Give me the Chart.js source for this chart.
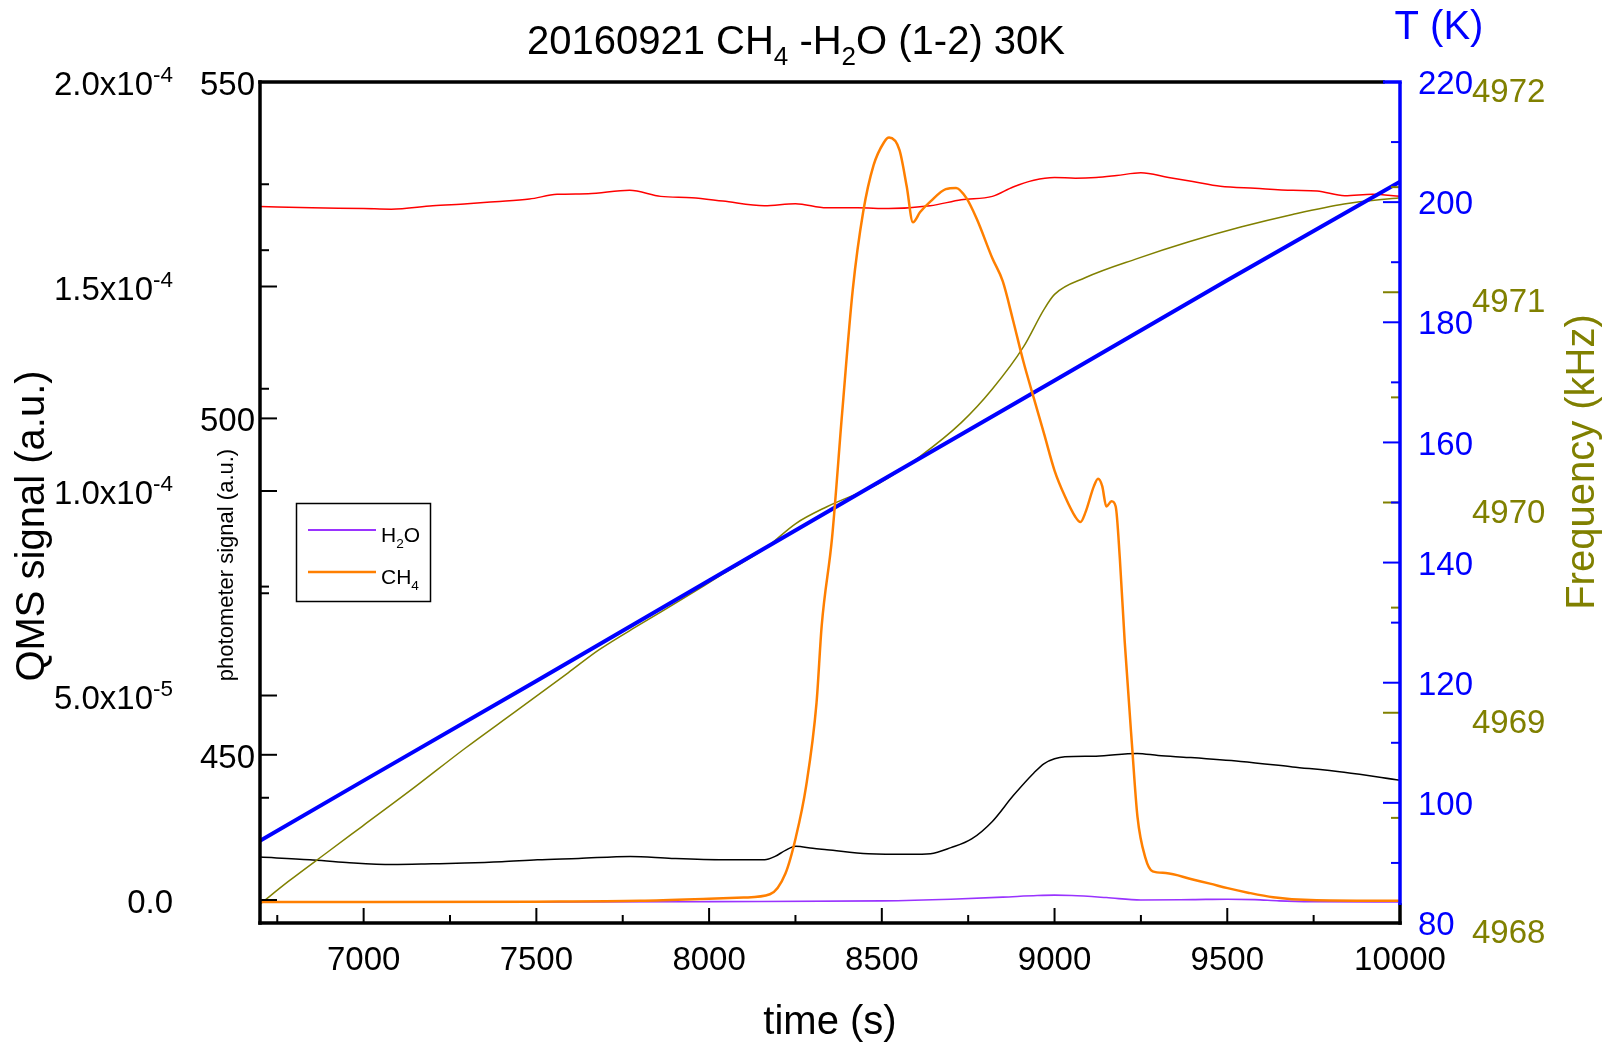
<!DOCTYPE html>
<html>
<head>
<meta charset="utf-8">
<script src="https://cdn.jsdelivr.net/npm/chart.js@4/dist/chart.umd.min.js"></script>
<style>
  html, body { margin: 0; padding: 0; background: #ffffff; }
  #wrap { width: 1621px; height: 1045px; }
</style>
</head>
<body>
<div id="wrap"><canvas id="c" width="1621" height="1045"></canvas></div>
<script>
// ---------------- tick labels / text ----------------
const timeTicks = [7000, 7500, 8000, 8500, 9000, 9500, 10000];
const qmsTicks = [0, 5e-5, 1e-4, 1.5e-4, 2e-4];
const photTicks = [450, 500, 550];
const tempTicks = [80, 100, 120, 140, 160, 180, 200, 220];
const freqTicks = [4968, 4969, 4970, 4971, 4972];

const titleParts = [['20160921 CH', 0], ['4', 1], [' -H', 0], ['2', 1], ['O (1-2) 30K', 0]];
const xTitle = 'time (s)';
const qmsTitle = 'QMS signal (a.u.)';
const photTitle = 'photometer signal (a.u.)';
const tempTitle = 'T (K)';
const freqTitle = 'Frequency (kHz)';
const legendH2O = [['H', 0], ['2', 1], ['O', 0]];
const legendCH4 = [['CH', 0], ['4', 1]];

// ---------------- data ----------------
const ch4Time = [6700, 7000, 7500, 7800, 8000, 8100, 8176, 8221, 8251, 8281, 8311, 8326, 8356, 8385, 8416, 8446, 8476, 8506, 8521, 8551, 8572, 8590, 8611, 8641, 8685, 8715, 8745, 8775, 8820, 8850, 8880, 8910, 8940, 8970, 9000, 9030, 9060, 9075, 9090, 9114, 9126, 9138, 9150, 9165, 9177, 9189, 9203, 9224, 9240, 9263, 9284, 9322, 9400, 9450, 9501, 9560, 9633, 9741, 10000];
const ch4Signal = [-0.5e-6, -0.5e-6, -0.4e-6, -0.2e-6, 0.3e-6, 0.6e-6, 1.4e-6, 6.5e-6, 15.3e-6, 27.9e-6, 48.2e-6, 67.1e-6, 88.6e-6, 118.9e-6, 149.3e-6, 168.2e-6, 179.6e-6, 185.2e-6, 186.4e-6, 183.4e-6, 174.5e-6, 165.7e-6, 168.2e-6, 170.8e-6, 173.8e-6, 174.1e-6, 171.6e-6, 166.5e-6, 156.9e-6, 151.3e-6, 141.7e-6, 131.6e-6, 122.7e-6, 113.9e-6, 105.0e-6, 98.7e-6, 93.7e-6, 92.4e-6, 94.9e-6, 101.2e-6, 103.0e-6, 101.2e-6, 96.2e-6, 97.5e-6, 96.2e-6, 83.5e-6, 63.3e-6, 38.1e-6, 20.4e-6, 10.3e-6, 7.0e-6, 6.6e-6, 5.0e-6, 4.0e-6, 2.9e-6, 1.8e-6, 0.7e-6, 0.0e-6, -0.2e-6];

const h2oTime = [6700, 7500, 8000, 8500, 8700, 8850, 8950, 9000, 9050, 9150, 9250, 9400, 9500, 9580, 9650, 9750, 10000];
const h2oSignal = [-0.5e-6, -0.5e-6, -0.4e-6, -0.2e-6, 0.2e-6, 0.7e-6, 1.1e-6, 1.2e-6, 1.1e-6, 0.6e-6, 0.0e-6, 0.1e-6, 0.2e-6, 0.1e-6, -0.2e-6, -0.4e-6, -0.5e-6];

const redTime = [6700, 6850, 7000, 7080, 7200, 7300, 7380, 7480, 7560, 7650, 7770, 7860, 7950, 8040, 8160, 8250, 8340, 8430, 8520, 8640, 8730, 8820, 8880, 8940, 9000, 9060, 9120, 9180, 9250, 9330, 9400, 9480, 9580, 9690, 9760, 9840, 9920, 10000];
const redSignal = [531.5, 531.3, 531.2, 531.1, 531.6, 531.9, 532.2, 532.6, 533.3, 533.4, 533.9, 533.0, 532.8, 532.3, 531.6, 531.9, 531.3, 531.3, 531.2, 531.6, 532.5, 533.0, 534.4, 535.4, 535.8, 535.7, 535.8, 536.1, 536.5, 535.8, 535.2, 534.5, 534.2, 533.9, 533.8, 533.1, 533.3, 533.0];

const blackTime = [6700, 6844, 6950, 7083, 7200, 7293, 7400, 7503, 7622, 7772, 7892, 8042, 8161, 8191, 8221, 8251, 8300, 8341, 8461, 8581, 8641, 8700, 8760, 8820, 8880, 8940, 8970, 9000, 9030, 9120, 9239, 9300, 9389, 9539, 9689, 9838, 10000];
const blackSignal = [434.8, 434.4, 434.0, 433.7, 433.8, 433.9, 434.1, 434.4, 434.6, 434.9, 434.6, 434.4, 434.4, 434.9, 435.8, 436.4, 436.1, 435.9, 435.3, 435.2, 435.3, 436.2, 437.5, 440.1, 443.9, 447.3, 448.7, 449.4, 449.7, 449.8, 450.2, 449.9, 449.6, 449.0, 448.2, 447.4, 446.2];

const tempTime = [6700, 7000, 7500, 8000, 8500, 9000, 9500, 10000];
const tempK = [93.7, 103.7, 120.3, 137.0, 153.7, 170.3, 187.0, 203.4];

const freqTime = [6700, 6784, 6898, 6996, 7143, 7293, 7443, 7592, 7682, 7800, 7922, 8040, 8161, 8251, 8341, 8491, 8611, 8730, 8820, 8910, 8970, 9000, 9090, 9239, 9389, 9539, 9689, 9838, 10000];
const freqKHz = [4968.09, 4968.20, 4968.34, 4968.46, 4968.64, 4968.83, 4969.01, 4969.19, 4969.30, 4969.42, 4969.54, 4969.66, 4969.78, 4969.90, 4969.98, 4970.09, 4970.22, 4970.38, 4970.54, 4970.74, 4970.92, 4970.99, 4971.07, 4971.16, 4971.24, 4971.31, 4971.37, 4971.42, 4971.45];

// ---------------- styling ----------------
const FONT = '"Liberation Sans", Arial, Helvetica, sans-serif';
const C_ORANGE = '#ff7f00';
const C_PURPLE = '#9933ff';
const C_BLUE = '#0000ff';
const C_OLIVE = '#808000';
const C_RED = '#ff0000';
const C_BLACK = '#000000';

function pts(xs, ys) { return xs.map((x, i) => ({ x: x, y: ys[i] })); }
function fontOf(size) { return size + 'px ' + FONT; }

function partSize(size, kind) { return kind === 0 ? size : (kind === 1 ? size * 0.65 : size * 0.68); }
function richWidth(ctx, parts, size) {
  let w = 0;
  for (const [t, k] of parts) { ctx.font = fontOf(partSize(size, k)); w += ctx.measureText(t).width; }
  return w;
}
function drawRich(ctx, parts, x, y, size, align, color) {
  const w = richWidth(ctx, parts, size);
  let cx = align === 'center' ? x - w / 2 : (align === 'right' ? x - w : x);
  ctx.save();
  ctx.fillStyle = color;
  ctx.textAlign = 'left';
  ctx.textBaseline = 'alphabetic';
  for (const [t, k] of parts) {
    const fs = partSize(size, k);
    ctx.font = fontOf(fs);
    const dy = k === 1 ? size * 0.27 : (k === 2 ? -size * 0.38 : 0);
    ctx.fillText(t, cx, y + dy);
    cx += ctx.measureText(t).width;
  }
  ctx.restore();
}
function drawRotated(ctx, text, x, y, size, color) {
  ctx.save();
  ctx.translate(x, y);
  ctx.rotate(-Math.PI / 2);
  ctx.font = fontOf(size);
  ctx.fillStyle = color;
  ctx.textAlign = 'center';
  ctx.textBaseline = 'alphabetic';
  ctx.fillText(text, 0, 0);
  ctx.restore();
}
function minorVals(majors, min, max) {
  const out = [];
  const step = majors[1] - majors[0];
  const eps = step * 1e-6;
  for (let i = 0; i < majors.length - 1; i++) out.push((majors[i] + majors[i + 1]) / 2);
  let v = majors[0] - step / 2;
  if (v > min + eps) out.push(v);
  v = majors[majors.length - 1] + step / 2;
  if (v < max - eps) out.push(v);
  return out;
}
function qmsLabel(v) {
  if (v === 0) return [['0.0', 0]];
  const e = Math.floor(Math.log10(v) + 1e-9);
  const m = v / Math.pow(10, e);
  return [[m.toFixed(1) + 'x10', 0], [String(e), 2]];
}
function line(ctx, x1, y1, x2, y2) { ctx.beginPath(); ctx.moveTo(x1, y1); ctx.lineTo(x2, y2); ctx.stroke(); }

const deco = {
  id: 'deco',
  afterDraw(chart) {
    const ctx = chart.ctx;
    const a = chart.chartArea;
    const sx = chart.scales.x, sq = chart.scales.qms, sp = chart.scales.phot,
          st = chart.scales.temp, sf = chart.scales.freq;
    const MAJ = 17, MIN = 9;
    ctx.save();
    ctx.lineWidth = 2;
    ctx.lineCap = 'butt';
    // x ticks
    ctx.strokeStyle = C_BLACK;
    for (const v of timeTicks) { const p = sx.getPixelForValue(v); line(ctx, p, a.bottom, p, a.bottom - 15); }
    for (const v of minorVals(timeTicks, sx.min, sx.max)) { const p = sx.getPixelForValue(v); line(ctx, p, a.bottom, p, a.bottom - 8); }
    // QMS ticks
    for (const v of qmsTicks) { const p = sq.getPixelForValue(v); line(ctx, a.left, p, a.left + MAJ, p); }
    for (const v of minorVals(qmsTicks, sq.min, sq.max)) { const p = sq.getPixelForValue(v); line(ctx, a.left, p, a.left + MIN, p); }
    // photometer ticks
    for (const v of photTicks) { const p = sp.getPixelForValue(v); line(ctx, a.left, p, a.left + MAJ, p); }
    for (const v of minorVals(photTicks, sp.min, sp.max)) { const p = sp.getPixelForValue(v); line(ctx, a.left, p, a.left + MIN, p); }
    // frequency ticks
    ctx.strokeStyle = C_OLIVE;
    for (const v of freqTicks) { const p = sf.getPixelForValue(v); line(ctx, a.right, p, a.right - MAJ, p); }
    for (const v of minorVals(freqTicks, sf.min, sf.max)) { const p = sf.getPixelForValue(v); line(ctx, a.right, p, a.right - MIN, p); }
    // temperature ticks
    ctx.strokeStyle = C_BLUE;
    for (const v of tempTicks) { const p = st.getPixelForValue(v); line(ctx, a.right, p, a.right - MAJ, p); }
    for (const v of minorVals(tempTicks, st.min, st.max)) { const p = st.getPixelForValue(v); line(ctx, a.right, p, a.right - MIN, p); }

    // frame
    ctx.lineWidth = 3.5;
    ctx.lineCap = 'square';
    ctx.strokeStyle = C_BLACK;
    line(ctx, a.left, a.top, a.left, a.bottom);
    line(ctx, a.left, a.bottom, a.right, a.bottom);
    line(ctx, a.left, a.top, a.right - 17, a.top);
    line(ctx, a.right, a.bottom - 18, a.right, a.bottom);
    ctx.strokeStyle = C_BLUE;
    ctx.lineCap = 'butt';
    line(ctx, a.right - 17, a.top, a.right + 1.75, a.top);
    line(ctx, a.right, a.top, a.right, a.bottom - 18);

    // QMS tick labels (with superscript exponent)
    for (const v of qmsTicks) {
      const p = sq.getPixelForValue(v);
      drawRich(ctx, qmsLabel(v), 173, p + 13, 33, 'right', C_BLACK);
    }

    // titles
    drawRich(ctx, titleParts, 796, 54, 40, 'center', C_BLACK);
    ctx.font = fontOf(40);
    ctx.fillStyle = C_BLACK;
    ctx.textAlign = 'center';
    ctx.textBaseline = 'alphabetic';
    ctx.fillText(xTitle, 830, 1034);
    drawRotated(ctx, qmsTitle, 44, 526, 40, C_BLACK);
    drawRotated(ctx, photTitle, 233, 565, 22, C_BLACK);
    drawRotated(ctx, freqTitle, 1594, 462, 40, C_OLIVE);
    ctx.font = fontOf(40);
    ctx.fillStyle = C_BLUE;
    ctx.textAlign = 'center';
    ctx.fillText(tempTitle, 1439, 39);

    // legend
    ctx.lineWidth = 1.5;
    ctx.strokeStyle = C_BLACK;
    ctx.strokeRect(296.5, 503.5, 134, 98);
    ctx.lineCap = 'butt';
    ctx.lineWidth = 2;
    ctx.strokeStyle = C_PURPLE;
    line(ctx, 308, 530, 376, 530);
    ctx.lineWidth = 2.5;
    ctx.strokeStyle = C_ORANGE;
    line(ctx, 308, 572, 376, 572);
    drawRich(ctx, legendH2O, 381, 542, 21, 'left', C_BLACK);
    drawRich(ctx, legendCH4, 381, 584, 21, 'left', C_BLACK);
    ctx.restore();
  }
};

const noGrid = { display: false, drawTicks: false };
const noBorder = { display: false };

const cfg = {
  type: 'line',
  data: {
    datasets: [
      { label: 'CH4', data: pts(ch4Time, ch4Signal), yAxisID: 'qms', borderColor: C_ORANGE, borderWidth: 2.5, cubicInterpolationMode: 'monotone' },
      { label: 'H2O', data: pts(h2oTime, h2oSignal), yAxisID: 'qms', borderColor: C_PURPLE, borderWidth: 1.6, cubicInterpolationMode: 'monotone' },
      { label: 'T', data: pts(tempTime, tempK), yAxisID: 'temp', borderColor: C_BLUE, borderWidth: 4 },
      { label: 'Frequency', data: pts(freqTime, freqKHz), yAxisID: 'freq', borderColor: C_OLIVE, borderWidth: 1.5, cubicInterpolationMode: 'monotone' },
      { label: 'photometer 1', data: pts(blackTime, blackSignal), yAxisID: 'phot', borderColor: C_BLACK, borderWidth: 1.5, cubicInterpolationMode: 'monotone' },
      { label: 'photometer 2', data: pts(redTime, redSignal), yAxisID: 'phot', borderColor: C_RED, borderWidth: 1.5, cubicInterpolationMode: 'monotone' }
    ]
  },
  options: {
    responsive: false,
    animation: false,
    devicePixelRatio: 1,
    layout: { padding: { top: 82, left: 0, right: 0, bottom: 0 } },
    elements: { point: { radius: 0, hoverRadius: 0 }, line: { borderJoinStyle: 'round', borderCapStyle: 'round', fill: false } },
    plugins: { legend: { display: false }, title: { display: false }, tooltip: { enabled: false } },
    events: [],
    scales: {
      x: {
        type: 'linear', position: 'bottom', min: 6700, max: 10000,
        afterBuildTicks: s => { s.ticks = timeTicks.map(v => ({ value: v })); },
        afterFit: s => { s.height = 122; },
        grid: noGrid, border: noBorder,
        ticks: { font: { family: FONT, size: 33 }, color: C_BLACK, padding: 18, maxRotation: 0, autoSkip: false, callback: v => String(v) }
      },
      qms: {
        type: 'linear', position: 'left', weight: 1, min: -5.62e-6, max: 2e-4,
        afterBuildTicks: s => { s.ticks = qmsTicks.map(v => ({ value: v })); },
        afterFit: s => { s.width = 170; },
        grid: noGrid, border: noBorder,
        ticks: { display: false }
      },
      phot: {
        type: 'linear', position: 'left', weight: 0, min: 425, max: 550,
        afterBuildTicks: s => { s.ticks = photTicks.map(v => ({ value: v })); },
        afterFit: s => { s.width = 90; },
        grid: noGrid, border: noBorder,
        ticks: { font: { family: FONT, size: 33 }, color: C_BLACK, padding: 5, labelOffset: 4, callback: v => String(v) }
      },
      temp: {
        type: 'linear', position: 'right', weight: 0, min: 80, max: 220,
        afterBuildTicks: s => { s.ticks = tempTicks.map(v => ({ value: v })); },
        afterFit: s => { s.width = 72; },
        grid: noGrid, border: noBorder,
        ticks: { font: { family: FONT, size: 33 }, color: C_BLUE, padding: 18, labelOffset: 3, callback: v => String(v) }
      },
      freq: {
        type: 'linear', position: 'right', weight: 1, min: 4968, max: 4972,
        afterBuildTicks: s => { s.ticks = freqTicks.map(v => ({ value: v })); },
        afterFit: s => { s.width = 149; },
        grid: noGrid, border: noBorder,
        ticks: { font: { family: FONT, size: 33 }, color: C_OLIVE, padding: 0, labelOffset: 11, callback: v => String(v) }
      }
    }
  },
  plugins: [deco]
};

new Chart(document.getElementById('c').getContext('2d'), cfg);
</script>
</body>
</html>
